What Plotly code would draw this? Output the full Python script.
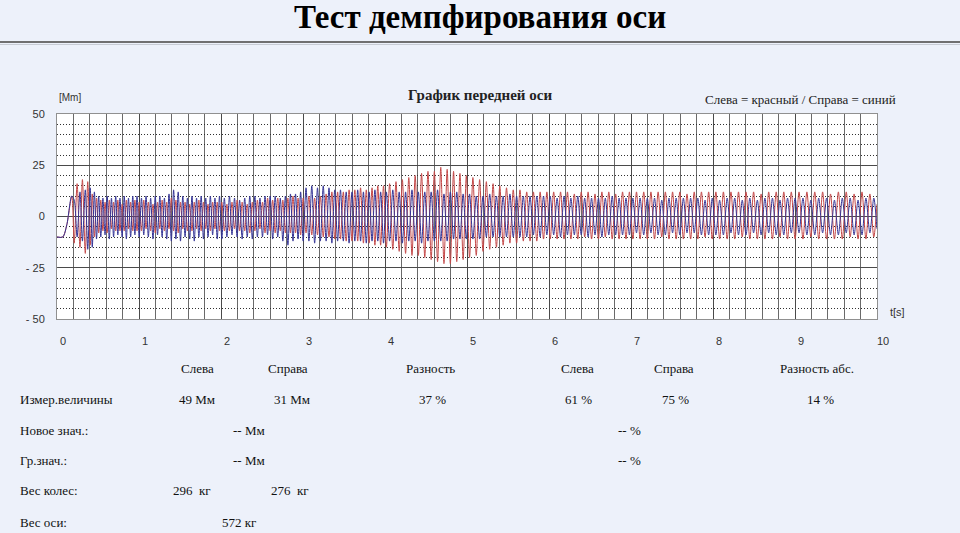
import plotly.graph_objects as go

# ---------------- data ----------------
time_s = [
    0.000, 0.070, 0.120, 0.180, 0.210, 0.245, 0.280, 0.310, 0.345, 0.375, 0.405,
    0.430, 0.456, 0.482, 0.508, 0.534, 0.560, 0.586, 0.612, 0.638, 0.664, 0.690,
    0.716, 0.742, 0.768, 0.794, 0.820, 0.846, 0.872, 0.898, 0.924, 0.950, 0.976,
    1.002, 1.030, 1.058, 1.086, 1.114, 1.142, 1.170, 1.198, 1.226, 1.254, 1.282,
    1.310, 1.338, 1.366, 1.394, 1.422, 1.450, 1.478, 1.506, 1.534, 1.562, 1.590,
    1.618, 1.646, 1.674, 1.702, 1.730, 1.758, 1.786, 1.814, 1.842, 1.870, 1.898,
    1.926, 1.954, 1.982,
    2.010, 2.041, 2.072, 2.103, 2.134, 2.165, 2.196, 2.227, 2.258, 2.289, 2.320,
    2.351, 2.382, 2.413, 2.444, 2.475, 2.506, 2.537, 2.568, 2.599, 2.630, 2.661,
    2.692, 2.723, 2.754, 2.785, 2.816, 2.847, 2.878, 2.909, 2.940, 2.971,
    3.002, 3.037, 3.072, 3.107, 3.142, 3.177, 3.212, 3.247, 3.282, 3.317, 3.352,
    3.387, 3.422, 3.457, 3.492, 3.527, 3.562, 3.597, 3.632, 3.667, 3.702, 3.737,
    3.772, 3.807, 3.842, 3.877, 3.912, 3.947, 3.982,
    4.017, 4.056, 4.095, 4.134, 4.173, 4.212, 4.251, 4.290, 4.329, 4.368, 4.407,
    4.446, 4.485, 4.524, 4.563, 4.602, 4.641, 4.680, 4.719, 4.758, 4.797, 4.836,
    4.875, 4.914, 4.953, 4.992,
    5.031, 5.072, 5.113, 5.154, 5.195, 5.236, 5.277, 5.318, 5.359, 5.400, 5.441,
    5.482, 5.523, 5.564, 5.605, 5.646, 5.687, 5.728, 5.769, 5.810, 5.851, 5.892,
    5.933, 5.974,
    6.015, 6.057, 6.099, 6.141, 6.183, 6.225, 6.267, 6.309, 6.351, 6.393, 6.435,
    6.477, 6.519, 6.561, 6.603, 6.645, 6.687, 6.729, 6.771, 6.813, 6.855, 6.897,
    6.939, 6.981,
    7.023, 7.067, 7.111, 7.155, 7.199, 7.243, 7.287, 7.331, 7.375, 7.419, 7.463,
    7.507, 7.551, 7.595, 7.639, 7.683, 7.727, 7.771, 7.815, 7.859, 7.903, 7.947,
    7.991,
    8.035, 8.081, 8.127, 8.173, 8.219, 8.265, 8.311, 8.357, 8.403, 8.449, 8.495,
    8.541, 8.587, 8.633, 8.679, 8.725, 8.771, 8.817, 8.863, 8.909, 8.955,
    9.001, 9.049, 9.097, 9.145, 9.193, 9.241, 9.289, 9.337, 9.385, 9.433, 9.481,
    9.529, 9.577, 9.625, 9.673, 9.721, 9.769, 9.817, 9.865, 9.913, 9.961,
    10.000,
]

left_mm = [  # Слева = красный
    -10, -10, -4, 10, -13, 16, -15, 18, -18, 17, -14,
    11, -10, 9, -8, 8, -7, 7, -8, 8, -6, 7, -7, 8, -7, 6, -7, 8, -6, 7, -7, 8, -7,
    7, -7, 8, -6, 7, -7, 6, -8, 7, -6, 8, -7, 7, -6, 9, -7, 8, -8, 7, -6,
    7, -7, 6, -7, 7, -6, 8, -7, 7, -6, 6, -7, 7, -6, 7, -7,
    7, -7, 6, -7, 7, -6, 8, -7, 7, -7, 6, -8, 7, -7, 8, -6, 7, -8, 9, -7,
    8, -8, 9, -7, 8, -8, 9, -8, 10, -8, 9, -9,
    9, -8, 10, -9, 9, -9, 10, -10, 11, -10, 12, -11, 12, -11, 12, -12, 13, -12, 13, -12,
    14, -13, 13, -13, 14, -14, 15, -14, 15,
    -15, 16, -16, 17, -17, 18, -18, 19, -19, 20, -19, 21, -20, 22, -21, 22, -22, 24, -23, 23,
    -23, 22, -22, 21, -21, 20,
    -20, 19, -19, 18, -17, 17, -16, 16, -15, 15, -14, 14, -13, 13, -13, 13, -12, 12, -12, 12,
    -12, 12, -11, 12,
    -11, 12, -11, 12, -11, 12, -11, 11, -11, 12, -10, 12, -11, 11, -11, 12, -10, 12, -11, 11,
    -11, 12, -11, 12,
    -11, 12, -11, 12, -11, 12, -11, 12, -10, 12, -11, 12, -11, 12, -11, 11, -11, 12, -11, 12,
    -10, 12, -11,
    12, -11, 12, -11, 12, -11, 12, -10, 12, -11, 12, -11, 11, -11, 12, -11, 12, -10, 12, -11,
    12,
    -11, 12, -11, 12, -10, 12, -11, 12, -11, 11, -11, 12, -11, 12, -10, 11, -11, 12, -11, 11,
    -10,
    6,
]

right_mm = [  # Справа = синий
    -10, -10, -4, 10, 8, -10, 12, -12, 13, -16, 14,
    -15, 12, -11, 10, -10, 9, -9, 10, -11, 9, -10, 10, -9, 9, -10, 10, -11, 9, -10, 10, -9, 10,
    -10, 9, -9, 10, -10, 9, -11, 10, -9, 10, -10, 9, -11, 11, -12, 13, -11, 12, -12, 10,
    -10, 9, -11, 10, -12, 9, -10, 10, -11, 9, -10, 10, -9, 9, -11, 10,
    -11, 9, -10, 10, -9, 9, -10, 8, -11, 9, -10, 10, -11, 10, -10, 9, -10, 10, -9, 10,
    -11, 10, -10, 9, -12, 10, -14, 11, -12, 11, -11, 12,
    -12, 14, -12, 15, -13, 14, -12, 15, -12, 14, -13, 13, -12, 13, -12, 12, -13, 12, -12, 13,
    -12, 12, -13, 12, -12, 13, -12, 12, -13,
    12, -12, 13, -12, 12, -13, 12, -12, 13, -12, 12, -13, 12, -12, 12, -12, 13, -12, 11, -12,
    12, -11, 12, -11, 11, -11,
    11, -11, 10, -11, 10, -10, 11, -10, 10, -10, 10, -10, 11, -10, 10, -10, 10, -10, 10, -9,
    10, -10, 10, -9,
    10, -9, 9, -10, 10, -9, 9, -9, 10, -9, 9, -10, 9, -9, 9, -10, 9, -9, 10, -9,
    9, -9, 9, -9,
    9, -8, 9, -9, 9, -8, 9, -9, 8, -9, 9, -8, 9, -9, 9, -8, 9, -8, 9, -9,
    8, -9, 9,
    -9, 8, -9, 9, -8, 9, -9, 8, -9, 9, -8, 8, -9, 9, -8, 9, -9, 8, -9, 9,
    -8,
    9, -8, 9, -9, 8, -9, 9, -8, 9, -9, 8, -9, 9, -8, 9, -9, 8, -9, 9, -8,
    9,
    -6,
]

assert len(time_s) == len(left_mm) == len(right_mm), (len(time_s), len(left_mm), len(right_mm))

x_ticks = [0, 1, 2, 3, 4, 5, 6, 7, 8, 9, 10]
y_ticks = [-50, -25, 0, 25, 50]
y_tick_text = ["- 50", "- 25", "0", "25", "50"]

table_headers = ["Слева", "Справа", "Разность", "Слева", "Справа", "Разность абс."]
row_labels = ["Измер.величины", "Новое знач.:", "Гр.знач.:", "Вес колес:", "Вес оси:"]
measured = ["49 Мм", "31 Мм", "37 %", "61 %", "75 %", "14 %"]
new_value = ["-- Мм", "-- %"]
limit_value = ["-- Мм", "-- %"]
wheel_weight = ["296  кг", "276  кг"]
axle_weight = ["572 кг"]

# ---------------- layout geometry (pixels) ----------------
W, H = 960, 533
PL, PR, PT, PB = 57, 877, 114, 319
PW, PH = PR - PL, PB - PT


def px(x):
    return (x - PL) / PW


def py(y):
    return (PB - y) / PH


BG = "#EDF1FA"
SERIF = "Liberation Serif"
SANS = "Liberation Sans"

fig = go.Figure()
fig.add_trace(go.Scatter(x=time_s, y=left_mm, mode="lines",
                         line=dict(color="rgb(196,72,72)", width=1, shape="spline", smoothing=0.8),
                         name="Слева", hoverinfo="skip"))
fig.add_trace(go.Scatter(x=time_s, y=right_mm, mode="lines",
                         line=dict(color="rgb(52,52,150)", width=1, shape="spline", smoothing=0.8),
                         name="Справа", hoverinfo="skip"))

ann = []


def txt(x, y, s, size=13, font=SERIF, anchor="center", bold=False, color="#111"):
    ann.append(dict(x=px(x), y=py(y), xref="paper", yref="paper", text=(f"<b>{s}</b>" if bold else s),
                    showarrow=False, xanchor=anchor, yanchor="middle",
                    font=dict(family=font, size=size, color=color)))


txt(480, 17, "Тест демпфирования оси", size=33, bold=True, color="#000")
txt(480, 95, "График передней оси", size=15, bold=True, color="#222")
txt(800, 100, "Слева = красный / Справа = синий", size=13, color="#222")
txt(70, 98, "[Mm]", size=10, font=SANS, color="#333")
txt(897, 312, "t[s]", size=11, font=SANS, color="#333")

header_x = [197, 288, 430, 577, 674, 817]
for hx, h in zip(header_x, table_headers):
    txt(hx, 368, h)

row_y = [399, 430, 460, 491, 522]
for ry, lab in zip(row_y, row_labels):
    txt(18, ry, lab, anchor="left")

meas_x = [197, 292, 432, 578, 675, 820]
for mx, m in zip(meas_x, measured):
    txt(mx, 399, m)
for vx, v in zip([249, 629], new_value):
    txt(vx, 430, v)
for vx, v in zip([249, 629], limit_value):
    txt(vx, 460, v)
for vx, v in zip([192, 290], wheel_weight):
    txt(vx, 491, v)
txt(239, 522, axle_weight[0])

shapes = [
    dict(type="line", xref="paper", yref="paper", x0=px(0), x1=px(W), y0=py(42), y1=py(42),
         line=dict(color="#707070", width=2)),
    dict(type="line", xref="paper", yref="paper", x0=px(0), x1=px(W), y0=py(44.5), y1=py(44.5),
         line=dict(color="#C8CCD4", width=1)),
]

fig.update_layout(
    width=W, height=H,
    margin=dict(l=PL, r=W - PR, t=PT, b=H - PB, pad=0),
    paper_bgcolor=BG, plot_bgcolor="white",
    showlegend=False,
    annotations=ann, shapes=shapes,
    xaxis=dict(range=[0, 10], tickvals=x_ticks, ticktext=[str(v) for v in x_ticks],
               showgrid=True, gridcolor="#4a4a4a", gridwidth=1,
               minor=dict(dtick=0.2, showgrid=True, gridcolor="#6a6a6a", gridwidth=1),
               zeroline=False, showline=True, linecolor="#909090", linewidth=1, mirror=True,
               ticks="", ticklabelstandoff=12, ticklabelshift=6,
               tickfont=dict(family=SANS, size=11, color="#333"), fixedrange=True),
    yaxis=dict(range=[-50, 50], tickvals=y_ticks, ticktext=y_tick_text,
               showgrid=True, gridcolor="#4a4a4a", gridwidth=1,
               minor=dict(dtick=5, showgrid=True, gridcolor="#303030", gridwidth=1, griddash="1px,2px"),
               zeroline=False, showline=True, linecolor="#909090", linewidth=1, mirror=True,
               ticks="", ticklabelstandoff=9,
               tickfont=dict(family=SANS, size=11, color="#333"), fixedrange=True),
)

fig.write_html(
    "out.html",
    config={"displayModeBar": False},
    post_script=("document.body.style.margin='0';document.body.style.padding='0';"
                 "document.body.style.overflow='hidden';document.body.style.background='%s';" % BG),
)
